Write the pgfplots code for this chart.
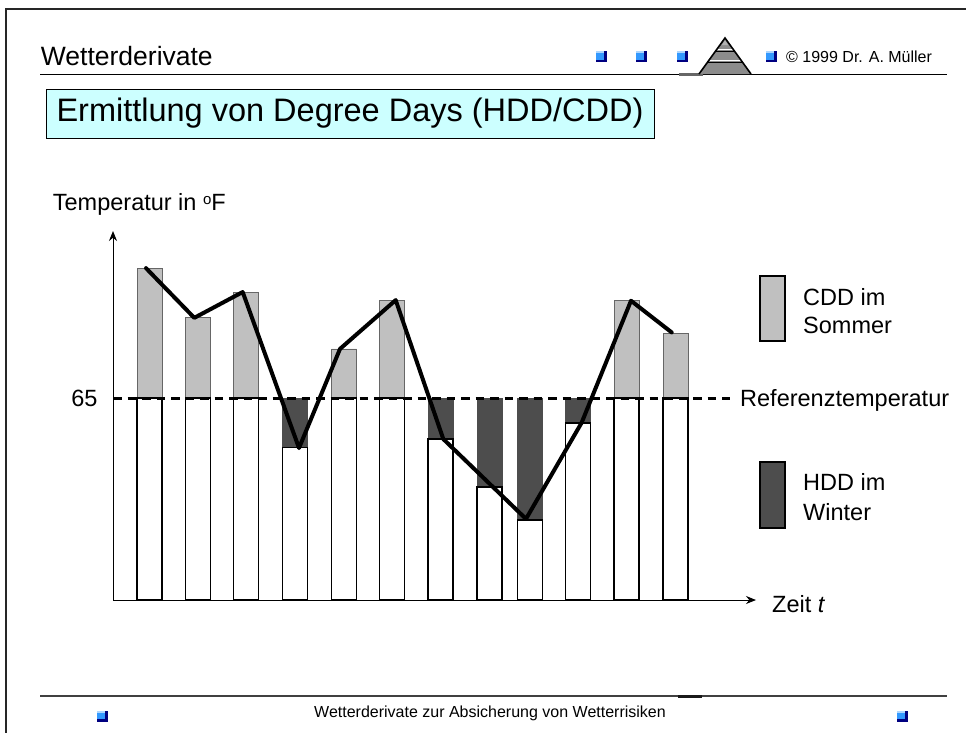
\documentclass[border=0pt]{standalone}
\usepackage{pgfplots}
\pgfplotsset{compat=1.18}
\usepackage{fontspec}
\setmainfont{Liberation Sans}
\usetikzlibrary{arrows.meta}
\definecolor{cddgray}{HTML}{C0C0C0}
\definecolor{hddgray}{HTML}{4D4D4D}
\definecolor{titlecyan}{HTML}{CCFFFF}
\definecolor{sqblue}{HTML}{3399FF}
\definecolor{sqnavy}{HTML}{000080}
\newcommand{\bluesq}[2]{%
  \fill[sqnavy] (#1-5.5,#2-5.5) rectangle (#1+5.5,#2+5.5);
  \fill[sqblue] (#1-5.5,#2-5.5) rectangle (#1+3,#2+3);
  \fill[white!60!sqblue] (#1-5.5,#2-5.5) rectangle (#1+3,#2-3.5);
}
\newcommand{\body}{\fontsize{23.5}{28}\selectfont}
\begin{document}
\begin{tikzpicture}
\begin{scope}[x=1pt,y=-1pt]
  \useasboundingbox (0,0) rectangle (966,732);
  % slide frame
  \draw[line width=1.3pt, black!85] (6,745) -- (6,9) -- (975,9);
  % header
  \node[anchor=base west, inner sep=0pt, font=\fontsize{26.5}{30}\selectfont] at (40.7,65) {Wetterderivate};
  \draw[line width=1pt] (40,74) -- (947,74);
  \fill[black!60] (679,73) rectangle (703,75.5);
  \bluesq{601}{56.5}
  \bluesq{641}{56.5}
  \bluesq{682}{56.5}
  \bluesq{771}{56.5}
  % pyramid logo
  \fill[black!45] (725,38) -- (751,74) -- (699,74) -- cycle;
  \fill[black!30] (725,40) -- (728,45) -- (722,45) -- cycle;
  \draw[white, line width=1.2pt] (716,49.5) -- (734,49.5);
  \draw[black, line width=1.6pt] (715,51.5) -- (735,51.5);
  \draw[white, line width=1.2pt] (708,60.5) -- (742,60.5);
  \draw[black, line width=1.6pt] (707,62.5) -- (743,62.5);
  \draw[black, line width=1.6pt, line join=miter] (699,74) -- (725,38) -- (751,74);
  \node[anchor=west, inner sep=0pt, font=\fontsize{16}{19}\selectfont] at (786,57) {© 1999 Dr. A. Müller};
  % title box
  \draw[fill=titlecyan, line width=1pt] (46,89) rectangle (654,138);
  \node[inner sep=0pt, font=\fontsize{32.5}{38}\selectfont] at (350,113.5) {Ermittlung von Degree Days (HDD/CDD)};
  % axis title
  \node[anchor=base west, inner sep=0pt, font=\body] at (52.7,210) {Temperatur in \raisebox{6pt}{\fontsize{15}{18}\selectfont o}F};
  % legend
  \draw[fill=cddgray, line width=1.3pt] (760,276) rectangle (785,341);
  \node[anchor=base west, inner sep=0pt, font=\body] at (803,305) {CDD im};
  \node[anchor=base west, inner sep=0pt, font=\body] at (803,333) {Sommer};
  \node[anchor=base west, inner sep=0pt, font=\body] at (740,406) {Referenztemperatur};
  \draw[fill=hddgray, line width=1.3pt] (760,462) rectangle (785,528);
  \node[anchor=base west, inner sep=0pt, font=\body] at (803,490) {HDD im};
  \node[anchor=base west, inner sep=0pt, font=\body] at (803,520) {Winter};
  \node[anchor=base west, inner sep=0pt, font=\body] at (772,612) {Zeit \textit{t}};
  % footer
  \draw[line width=1.3pt, black!75] (40,696) -- (947,696);
  \fill[black!90] (678,695) rectangle (702,697.5);
  \node[inner sep=0pt, font=\fontsize{16}{19}\selectfont] at (490,713) {Wetterderivate zur Absicherung von Wetterrisiken};
  \bluesq{102}{716}
  \bluesq{902}{716}
\end{scope}
\begin{axis}[
  at={(113pt,-600pt)}, anchor=south west,
  scale only axis, width=643pt, height=369pt,
  xmin=113, xmax=756, ymin=0, ymax=118.74,
  axis lines=left,
  axis line style={line width=1pt},
  x axis line style={-{Stealth[length=10pt,width=8pt]}},
  y axis line style={-{Stealth[length=10pt,width=8pt]}},
  xtick=\empty,
  ytick={65}, yticklabels={65},
  major tick length=0pt,
  yticklabel style={font=\body, xshift=-12pt},
  clip=false,
]
% CDD (above reference) bars, full height
\addplot[ybar, bar shift=0pt, bar width=25, fill=cddgray, draw=black!60, line width=0.8pt]
  coordinates {(149.5,106.7) (198,91.0) (246,99.0) (344,80.8) (392,96.4) (626.5,96.4) (675.5,85.9)};
% HDD (below reference) bars up to reference
\addplot[ybar, bar shift=0pt, bar width=25, fill=hddgray, draw=hddgray, line width=0.8pt]
  coordinates {(295,65) (440.5,65) (489.5,65) (530,65) (578,65)};
% white part of each bar
\addplot[ybar, bar shift=0pt, bar width=25, fill=white, draw=black, line width=1.5pt]
  coordinates {(149.5,65) (198,65) (246,65) (295,49.1) (344,65) (392,65) (440.5,51.8) (489.5,36.3) (530,25.7) (578,56.9) (626.5,65) (675.5,65)};
% reference temperature
\addplot[black, line width=3pt, dash pattern=on 8.5pt off 6pt] coordinates {(113,65) (730,65)};
% temperature path
\addplot[black, line width=4pt, line join=round, line cap=round]
  coordinates {(146,106.8) (194.3,90.8) (242.7,99.1) (299,48.9) (340,80.8) (395.7,96.5) (443.3,51.8) (526,26.1) (581.7,57.1) (631,96.3) (671.7,86.1)};
\end{axis}
\end{tikzpicture}
\end{document}
